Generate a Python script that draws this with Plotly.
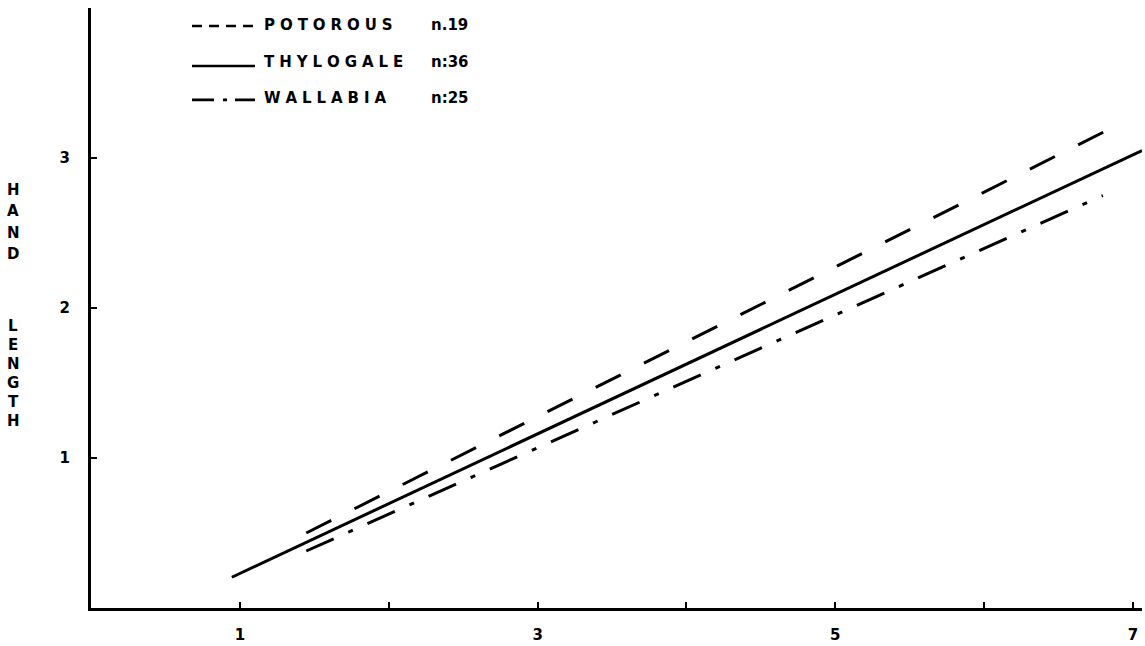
import plotly.graph_objects as go

# Species and sample sizes shown in the key
species = ["POTOROUS", "THYLOGALE", "WALLABIA"]
n_labels = ["n.19", "n:36", "n:25"]

# Fitted regression lines: end points (x, hand length)
potorous_x = [1.446, 6.806]
potorous_y = [0.50, 3.175]
thylogale_x = [0.946, 7.06]
thylogale_y = [0.205, 3.05]
wallabia_x = [1.446, 6.797]
wallabia_y = [0.38, 2.75]

# Axis ticks
x_tickvals = [1, 2, 3, 4, 5, 6, 7]
x_ticktext = ["1", "", "3", "", "5", "", "7"]
y_tickvals = [1, 2, 3]
y_ticktext = ["1", "2", "3"]

FONT = "DejaVu Sans"
INK = "black"
dashes = ["28px,26px", "solid", "30px,16px,5px,16px"]
series = [(potorous_x, potorous_y), (thylogale_x, thylogale_y), (wallabia_x, wallabia_y)]

fig = go.Figure()
for name, (xs, ys), dash in zip(species, series, dashes):
    fig.add_trace(go.Scatter(
        x=xs, y=ys, mode="lines", name=name, showlegend=False,
        line=dict(color=INK, width=3, dash=dash),
        hoverinfo="skip",
    ))

W, H = 1145, 646
L, R, T, B = 91, 3, 8, 37.5
pw, ph = W - L - R, H - T - B


def px_to_paper(px, py):
    return (px - L) / pw, (H - B - py) / ph


def spaced(word):
    # three-per-em space between the stencilled capitals
    return "\u2004".join(word)


text_font = dict(family=FONT, size=15, color=INK, weight="bold")

# Lettered key in the upper left
key_rows = [25, 62, 98]
key_line_rows = [26, 66, 100]
key_samples = ["10px,7px", "solid", "22px,9px,4px,8px"]
shapes = []
annotations = []
for name, nlab, row, lrow, dash in zip(species, n_labels, key_rows, key_line_rows, key_samples):
    x0, y0 = px_to_paper(192, lrow)
    x1, _ = px_to_paper(255, lrow)
    shapes.append(dict(
        type="line", xref="paper", yref="paper", x0=x0, x1=x1, y0=y0, y1=y0,
        line=dict(color=INK, width=2.6, dash=dash),
    ))
    tx, ty = px_to_paper(262, row)
    annotations.append(dict(
        x=tx, y=ty, xref="paper", yref="paper", text=spaced(name),
        showarrow=False, xanchor="left", yanchor="middle", font=text_font,
    ))
    nx, _ = px_to_paper(429, row)
    annotations.append(dict(
        x=nx, y=ty, xref="paper", yref="paper", text=nlab,
        showarrow=False, xanchor="left", yanchor="middle", font=text_font,
    ))

# Vertical axis title, one letter under another
for word, top, step in (("HAND", 190, 21.5), ("LENGTH", 326, 19)):
    for k, letter in enumerate(word):
        ax, ay = px_to_paper(13, top + k * step)
        annotations.append(dict(
            x=ax, y=ay, xref="paper", yref="paper", text=letter,
            showarrow=False, xanchor="center", yanchor="middle",
            font=dict(family=FONT, size=15, color=INK, weight="bold"),
        ))

fig.update_layout(
    width=W, height=H,
    margin=dict(l=L, r=R, t=T, b=B, pad=0),
    paper_bgcolor="white", plot_bgcolor="white",
    font=dict(family=FONT, size=14, color=INK),
    shapes=shapes, annotations=annotations,
    showlegend=False,
)
tick_font = dict(family=FONT, size=15, color=INK, weight="bold")
fig.update_xaxes(
    range=[0, 7.06], tickvals=x_tickvals, ticktext=x_ticktext,
    showgrid=False, zeroline=False, showline=True, linewidth=3, linecolor=INK,
    ticks="inside", ticklen=6, tickwidth=1.5, tickcolor=INK,
    ticklabelstandoff=11, tickfont=tick_font,
)
fig.update_yaxes(
    range=[0, 4], tickvals=y_tickvals, ticktext=y_ticktext,
    showgrid=False, zeroline=False, showline=True, linewidth=3, linecolor=INK,
    ticks="inside", ticklen=6, tickwidth=1.5, tickcolor=INK,
    ticklabelstandoff=15, tickfont=tick_font,
)

fig.write_html("out.html")
